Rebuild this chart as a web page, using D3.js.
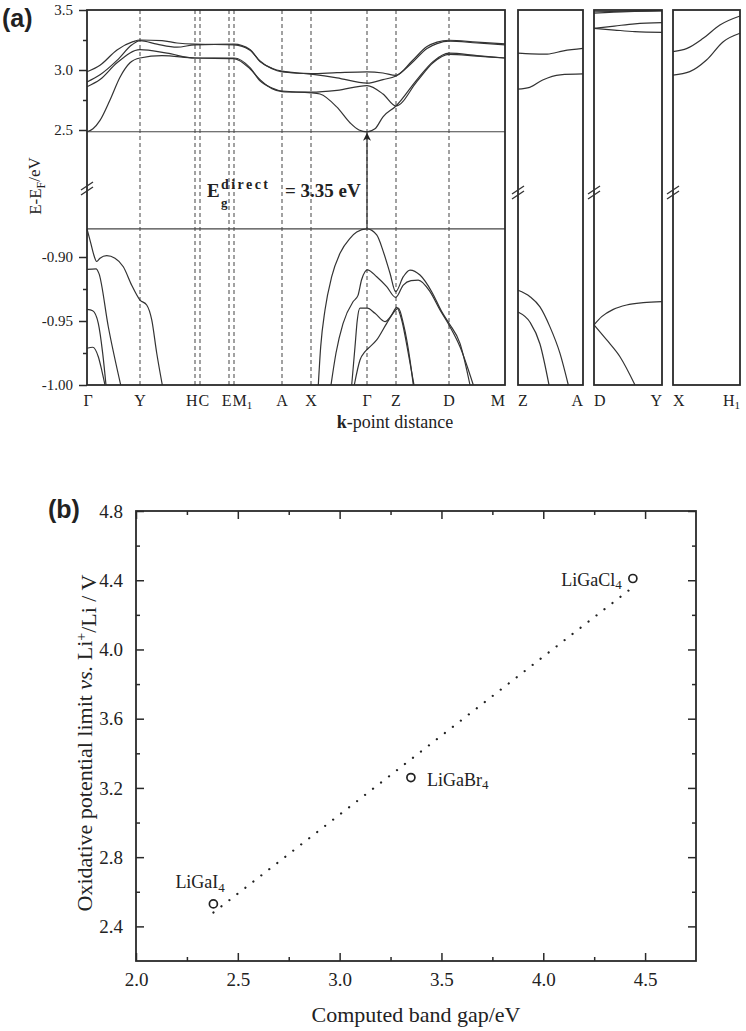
<!DOCTYPE html>
<html>
<head>
<meta charset="utf-8">
<script src="https://cdn.jsdelivr.net/npm/d3@7/dist/d3.min.js"></script>
<style>
  body { margin: 0; background: #fff; }
  svg { display: block; }
  text { font-family: "Liberation Serif", "Times New Roman", serif; fill: #222; }
  .frame { fill: none; stroke: #2a2a2a; stroke-width: 1.8px; }
  .band { fill: none; stroke: #333; stroke-width: 1.2px; }
  .kline { stroke: #555; stroke-width: 1.1px; stroke-dasharray: 4,3; }
  .edge { stroke: #444; stroke-width: 1.1px; }
  .tick line { stroke: #2a2a2a; stroke-width: 1.5px; }
</style>
</head>
<body>
<svg id="chart" width="746" height="1031"></svg>
<script>
// ---------- (a) band structure: [k-distance, E-EF (eV)] ----------
var kNames = ["Γ", "Y", "H", "C", "E", "M", "A", "X", "Γ", "Z", "D", "M"];
var kSubs  = ["", "", "", "", "", "1", "", "", "", "", "", ""];
var kPos   = [0, 0.53, 1.08, 1.13, 1.42, 1.47, 1.95, 2.24, 2.80, 3.09, 3.62, 4.18];

var sideNames = [["Z", "A"], ["D", "Y"], ["X", "H"]];
var sideSubs  = [["", ""], ["", ""], ["", "1"]];

var upTicks = [2.5, 3.0, 3.5], upMinor = [2.75, 3.25];
var loTicks = [-1.00, -0.95, -0.90], loMinor = [-0.975, -0.925];
var gapValue = 3.35;

// conduction bands (upper part of the broken axis)
var cb1 = [[0,2.485],[0.06,2.51],[0.13,2.58],[0.23,2.75],[0.33,2.94],[0.43,3.06],[0.53,3.10],[0.75,3.12],[1.08,3.10],[1.47,3.095],[1.63,3.01],[1.73,2.92],[1.85,2.845],[1.95,2.82],[2.24,2.81],[2.33,2.80],[2.50,2.69],[2.63,2.56],[2.72,2.50],[2.80,2.485],[2.88,2.51],[2.96,2.61],[3.09,2.70],[3.30,2.92],[3.46,3.07],[3.62,3.14],[3.90,3.12],[4.18,3.10]];
var cb2 = [[0,2.86],[0.13,2.92],[0.30,3.06],[0.53,3.17],[0.80,3.14],[1.08,3.10],[1.47,3.10],[1.63,3.02],[1.73,2.91],[1.85,2.85],[1.95,2.825],[2.24,2.815],[2.50,2.83],[2.80,2.87],[2.96,2.80],[3.09,2.70],[3.30,2.905],[3.46,3.06],[3.62,3.13],[3.90,3.115],[4.18,3.10]];
var cb3 = [[0,2.90],[0.13,2.96],[0.30,3.08],[0.45,3.21],[0.53,3.245],[0.70,3.215],[0.90,3.19],[1.08,3.21],[1.47,3.215],[1.63,3.17],[1.73,3.07],[1.85,3.015],[1.95,2.99],[2.24,2.965],[2.50,2.935],[2.80,2.89],[2.96,2.92],[3.09,2.95],[3.25,3.06],[3.40,3.18],[3.50,3.22],[3.62,3.24],[3.90,3.225],[4.18,3.21]];
var cb4 = [[0,2.985],[0.13,3.04],[0.30,3.167],[0.46,3.236],[0.53,3.25],[0.75,3.245],[0.90,3.225],[1.08,3.215],[1.47,3.21],[1.63,3.165],[1.73,3.075],[1.85,3.01],[1.95,2.985],[2.24,2.97],[2.50,2.978],[2.80,2.985],[2.96,2.975],[3.09,2.955],[3.25,3.075],[3.40,3.195],[3.50,3.232],[3.62,3.248],[3.90,3.232],[4.18,3.218]];

// valence bands (lower part)
var vb1 = [[0,-0.878],[0.037,-0.889],[0.063,-0.897],[0.097,-0.9035],[0.13,-0.901],[0.197,-0.899],[0.28,-0.901],[0.363,-0.9076],[0.447,-0.922],[0.53,-0.9336],[0.597,-0.9375],[0.647,-0.949],[0.697,-0.975],[0.753,-1.0]];
var vb2 = [[0,-0.9096],[0.09,-0.9092],[0.12,-0.913],[0.213,-0.9545],[0.337,-1.0]];
var vb3 = [[0,-0.9409],[0.057,-0.942],[0.113,-0.9518],[0.157,-0.9753],[0.19,-1.0]];
var vb4 = [[0,-0.9713],[0.057,-0.9705],[0.113,-0.9779],[0.147,-0.9883],[0.18,-1.0]];
var vb5 = [[2.313,-1.0],[2.337,-0.970],[2.38,-0.9414],[2.447,-0.9154],[2.53,-0.8971],[2.63,-0.8854],[2.697,-0.8805],[2.80,-0.878],[2.897,-0.8828],[2.963,-0.8958],[3.03,-0.9127],[3.087,-0.9271],[3.163,-0.9154],[3.23,-0.9102],[3.33,-0.9141],[3.447,-0.9271],[3.547,-0.9427],[3.62,-0.9518],[3.73,-0.9675],[3.83,-1.0]];
var vb6 = [[2.44,-1.0],[2.49,-0.975],[2.56,-0.952],[2.66,-0.935],[2.71,-0.930],[2.745,-0.918],[2.78,-0.9115],[2.803,-0.910],[2.897,-0.9154],[2.997,-0.9232],[3.087,-0.9316],[3.163,-0.9219],[3.24,-0.9185],[3.313,-0.918],[3.43,-0.9271],[3.53,-0.9414],[3.62,-0.9531],[3.73,-0.9701],[3.863,-1.0]];
var vb7 = [[2.647,-1.0],[2.68,-0.9701],[2.703,-0.9492],[2.73,-0.940],[2.803,-0.940],[2.88,-0.944],[2.98,-0.9505],[3.047,-0.9453],[3.097,-0.9393],[3.147,-0.9492],[3.213,-0.9753],[3.27,-1.0]];
var vb8 = [[2.673,-1.0],[2.73,-0.9805],[2.78,-0.974],[2.813,-0.9713],[2.897,-0.9648],[2.997,-0.9518],[3.087,-0.9414],[3.113,-0.940],[3.163,-0.9518],[3.23,-0.9805],[3.263,-1.0]];

// side panels, k runs 0..1 across each panel
var zaCB1 = [[0,3.14],[0.2,3.135],[0.45,3.133],[0.7,3.16],[1,3.18]];
var zaCB2 = [[0,2.84],[0.18,2.855],[0.38,2.917],[0.65,2.96],[1,2.967]];
var zaVB1 = [[0,-0.926],[0.185,-0.931],[0.338,-0.939],[0.49,-0.9544],[0.646,-0.9753],[0.774,-1.0]];
var zaVB2 = [[0,-0.943],[0.185,-0.951],[0.338,-0.968],[0.477,-1.0]];
var dyCB1 = [[0,3.485],[0.5,3.49],[1,3.495]];
var dyCB2 = [[0,3.473],[0.5,3.487],[1,3.493]];
var dyCB3 = [[0,3.347],[0.3,3.366],[0.6,3.385],[1,3.394]];
var dyCB4 = [[0,3.347],[0.3,3.333],[0.6,3.32],[1,3.314]];
var dyVB1 = [[0,-0.953],[0.113,-0.9466],[0.284,-0.9409],[0.48,-0.9375],[0.725,-0.9357],[1,-0.9349]];
var dyVB2 = [[0,-0.953],[0.187,-0.9648],[0.382,-0.9779],[0.603,-1.0]];
var xhCB1 = [[0,3.153],[0.21,3.18],[0.45,3.264],[0.7,3.375],[1,3.45]];
var xhCB2 = [[0,2.958],[0.25,2.986],[0.5,3.083],[0.75,3.236],[1,3.306]];

// ---------- (b) oxidative limit vs band gap ----------
var compounds   = ["LiGaI", "LiGaBr", "LiGaCl"];
var bandGap     = [2.38, 3.35, 4.44];
var oxPotential = [2.53, 3.26, 4.41];
var fitGap = [2.38, 4.44];
var fitPot = [2.48, 4.36];
var bMajorX = [2.0, 2.5, 3.0, 3.5, 4.0, 4.5], bMinorX = [2.25, 2.75, 3.25, 3.75, 4.25];
var bMajorY = [2.4, 2.8, 3.2, 3.6, 4.0, 4.4, 4.8], bMinorY = [2.6, 3.0, 3.4, 3.8, 4.2, 4.6];

var svg = d3.select("#chart");

// ================= panel (a) =================
var aTop = 10, aBottom = 385;
var yUp = d3.scaleLinear().domain([2.0, 3.5]).range([190, 10]);
var yLo = d3.scaleLinear().domain([-1.0, -0.85]).range([385, 193]);
var mainX = d3.scaleLinear().domain([0, 4.18]).range([87, 505]);

var panels = [
  { x: mainX, cb: [cb1, cb2, cb3, cb4], vb: [vb1, vb2, vb3, vb4, vb5, vb6, vb7, vb8] },
  { x: d3.scaleLinear().domain([0, 1]).range([518, 583]), cb: [zaCB1, zaCB2], vb: [zaVB1, zaVB2], side: 0 },
  { x: d3.scaleLinear().domain([0, 1]).range([594, 662]), cb: [dyCB1, dyCB2, dyCB3, dyCB4], vb: [dyVB1, dyVB2], side: 1 },
  { x: d3.scaleLinear().domain([0, 1]).range([673, 740]), cb: [xhCB1, xhCB2], vb: [], side: 2 }
];

var ga = svg.append("g");

// dashed high-symmetry lines in the main panel
ga.selectAll("line.kline")
  .data(kPos.slice(1, -1))
  .enter().append("line")
  .attr("class", "kline")
  .attr("x1", function(d) { return mainX(d); })
  .attr("x2", function(d) { return mainX(d); })
  .attr("y1", aTop).attr("y2", aBottom);

// band edges and gap arrow
var cbm = d3.min(cb1, function(d) { return d[1]; });
var vbm = d3.max(vb5, function(d) { return d[1]; });
var kGap = vb5.find(function(d) { return d[1] === vbm; })[0];

ga.append("line").attr("class", "edge")
  .attr("x1", mainX(0)).attr("x2", mainX(4.18))
  .attr("y1", yUp(cbm)).attr("y2", yUp(cbm));
ga.append("line").attr("class", "edge")
  .attr("x1", mainX(0)).attr("x2", mainX(4.18))
  .attr("y1", yLo(vbm)).attr("y2", yLo(vbm));

svg.append("defs").append("marker")
  .attr("id", "head")
  .attr("viewBox", "0 0 10 10")
  .attr("refX", 10).attr("refY", 5)
  .attr("markerWidth", 10).attr("markerHeight", 8)
  .attr("markerUnits", "userSpaceOnUse")
  .attr("orient", "auto")
  .append("path")
  .attr("d", "M0,0 L10,5 L0,10 L3,5 Z")
  .attr("fill", "#222");

ga.append("line")
  .attr("x1", mainX(kGap)).attr("x2", mainX(kGap))
  .attr("y1", yLo(vbm)).attr("y2", yUp(cbm) + 1)
  .attr("stroke", "#333").attr("stroke-width", 1.3)
  .attr("marker-end", "url(#head)");

// bands
panels.forEach(function(p) {
  var lineUp = d3.line().x(function(d) { return p.x(d[0]); }).y(function(d) { return yUp(d[1]); }).curve(d3.curveMonotoneX);
  var lineLo = d3.line().x(function(d) { return p.x(d[0]); }).y(function(d) { return yLo(d[1]); }).curve(d3.curveMonotoneX);
  ga.append("g").selectAll("path").data(p.cb).enter().append("path").attr("class", "band").attr("d", lineUp);
  ga.append("g").selectAll("path").data(p.vb).enter().append("path").attr("class", "band").attr("d", lineLo);

  var r = p.x.range();
  ga.append("rect").attr("class", "frame")
    .attr("x", r[0]).attr("y", aTop)
    .attr("width", r[1] - r[0]).attr("height", aBottom - aTop);
});

// axis break marks
function breakMark(x0, y0) {
  [0, 5].forEach(function(off) {
    ga.append("line")
      .attr("x1", x0 - 6).attr("y1", y0 + off + 4)
      .attr("x2", x0 + 6).attr("y2", y0 + off - 4)
      .attr("stroke", "#333").attr("stroke-width", 1.4);
  });
}
breakMark(mainX(0), 186);
panels.slice(1).forEach(function(p) { breakMark(p.x.range()[0], 190); });

// left axis ticks (broken)
function leftAxis(scale, major, minor, fmt) {
  var ax = ga.append("g").attr("transform", "translate(" + mainX(0) + ",0)")
    .call(d3.axisLeft(scale).tickValues(major).tickSize(8).tickPadding(6).tickFormat(fmt));
  ax.select(".domain").remove();
  ax.selectAll("text").style("font-size", "15px").style("font-family", "Liberation Serif");
  var mi = ga.append("g").attr("transform", "translate(" + mainX(0) + ",0)")
    .call(d3.axisLeft(scale).tickValues(minor).tickSize(4).tickFormat(""));
  mi.select(".domain").remove();
}
leftAxis(yUp, upTicks, upMinor, function(d) { return d.toFixed(1); });
leftAxis(yLo, loTicks, loMinor, function(d) { return d.toFixed(2); });

// k-point labels
function kLabel(x, name, sub, anchor) {
  var t = ga.append("text").attr("x", x).attr("y", 406)
    .attr("text-anchor", anchor).style("font-size", "16px").text(name);
  if (sub) t.append("tspan").attr("dy", "0.3em").style("font-size", "11px").text(sub);
}
kPos.forEach(function(k, i) {
  var anchor = "middle", x = mainX(k);
  if (i === 0) x += 1;
  if (i === kPos.length - 1) anchor = "end";
  if (i + 1 < kPos.length && kPos[i + 1] - k < 0.1) { anchor = "end"; x = mainX((k + kPos[i + 1]) / 2); }
  if (i > 0 && k - kPos[i - 1] < 0.1) { anchor = "start"; x = mainX((k + kPos[i - 1]) / 2) + 1; }
  kLabel(x, kNames[i], kSubs[i], anchor);
});
panels.slice(1).forEach(function(p) {
  var r = p.x.range(), s = p.side;
  kLabel(r[0], sideNames[s][0], sideSubs[s][0], "start");
  kLabel(r[1], sideNames[s][1], sideSubs[s][1], "end");
});

// axis titles
var xt = ga.append("text").attr("x", 395).attr("y", 428).attr("text-anchor", "middle").style("font-size", "18px");
xt.append("tspan").style("font-weight", "bold").text("k");
xt.append("tspan").text("-point distance");

var yt = ga.append("text").attr("transform", "translate(41,186) rotate(-90)")
  .attr("text-anchor", "middle").style("font-size", "17px");
yt.append("tspan").text("E-E");
yt.append("tspan").attr("dy", "0.3em").style("font-size", "12px").text("F");
yt.append("tspan").attr("dy", "-0.3em").text("/eV");

// gap annotation: E with stacked superscript / subscript
var egX = 207, egY = 197;
ga.append("text").attr("x", egX).attr("y", egY)
  .style("font-size", "19px").style("font-weight", "bold").text("E");
ga.append("text").attr("x", egX + 14).attr("y", egY - 8)
  .style("font-size", "14px").style("font-weight", "bold")
  .attr("textLength", 47).attr("lengthAdjust", "spacing").text("direct");
ga.append("text").attr("x", egX + 14).attr("y", egY + 10)
  .style("font-size", "13px").style("font-weight", "bold").text("g");
ga.append("text").attr("x", egX + 78).attr("y", egY)
  .style("font-size", "19px").style("font-weight", "bold").text("= " + gapValue.toFixed(2) + " eV");

ga.append("text").attr("x", 2).attr("y", 27)
  .style("font-family", "Liberation Sans").style("font-weight", "bold").style("font-size", "25px").text("(a)");

// ================= panel (b) =================
var gb = svg.append("g");
var xB = d3.scaleLinear().domain([2.0, 4.75]).range([136, 696]);
var yB = d3.scaleLinear().domain([2.2, 4.8]).range([961, 511]);

function inAxis(axis, pos, values, size, fmt) {
  var g = gb.append("g").attr("transform", pos)
    .call(axis.tickValues(values).tickSize(-size).tickFormat(fmt || ""));
  g.select(".domain").remove();
  return g;
}
var fmt1 = function(d) { return d.toFixed(1); };
var bx = inAxis(d3.axisBottom(xB).tickPadding(12), "translate(0,961)", bMajorX, 8, fmt1);
inAxis(d3.axisBottom(xB), "translate(0,961)", bMinorX, 4);
inAxis(d3.axisTop(xB), "translate(0,511)", bMajorX, 8);
inAxis(d3.axisTop(xB), "translate(0,511)", bMinorX, 4);
var by = inAxis(d3.axisLeft(yB).tickPadding(13), "translate(136,0)", bMajorY, 8, fmt1);
inAxis(d3.axisLeft(yB), "translate(136,0)", bMinorY, 4);
inAxis(d3.axisRight(yB), "translate(696,0)", bMajorY, 8);
inAxis(d3.axisRight(yB), "translate(696,0)", bMinorY, 4);
bx.selectAll("text").style("font-size", "19px").style("font-family", "Liberation Serif");
by.selectAll("text").style("font-size", "19px").style("font-family", "Liberation Serif");

gb.append("rect").attr("class", "frame")
  .attr("x", 136).attr("y", 511).attr("width", 696 - 136).attr("height", 961 - 511);

// linear fit (dotted)
gb.append("path")
  .datum(fitGap.map(function(g, i) { return [g, fitPot[i]]; }))
  .attr("d", d3.line().x(function(d) { return xB(d[0]); }).y(function(d) { return yB(d[1]); }))
  .attr("fill", "none").attr("stroke", "#222").attr("stroke-width", 2.2)
  .attr("stroke-linecap", "round").attr("stroke-dasharray", "0.1,10");

// points
gb.selectAll("circle").data(compounds).enter().append("circle")
  .attr("cx", function(d, i) { return xB(bandGap[i]); })
  .attr("cy", function(d, i) { return yB(oxPotential[i]); })
  .attr("r", 4).attr("fill", "none").attr("stroke", "#222").attr("stroke-width", 1.7);

// point labels: offsets from the marker
var labelDx = [-38, 16, -11], labelDy = [-16, 8, 7], labelAnchor = ["start", "start", "end"];
compounds.forEach(function(c, i) {
  var t = gb.append("text")
    .attr("x", xB(bandGap[i]) + labelDx[i])
    .attr("y", yB(oxPotential[i]) + labelDy[i])
    .attr("text-anchor", labelAnchor[i]).style("font-size", "18px").text(c);
  t.append("tspan").attr("dy", "0.3em").style("font-size", "13px").text("4");
});

gb.append("text").attr("x", 416).attr("y", 1022).attr("text-anchor", "middle")
  .style("font-size", "22px").text("Computed band gap/eV");

var oy = gb.append("text").attr("transform", "translate(92,743) rotate(-90)")
  .attr("text-anchor", "middle").style("font-size", "22px");
oy.append("tspan").text("Oxidative potential limit ");
oy.append("tspan").style("font-style", "italic").text("vs.");
oy.append("tspan").text(" Li");
oy.append("tspan").attr("dy", "-0.45em").style("font-size", "14px").text("+");
oy.append("tspan").attr("dy", "0.45em").text("/Li / V");

gb.append("text").attr("x", 48).attr("y", 518)
  .style("font-family", "Liberation Sans").style("font-weight", "bold").style("font-size", "25px").text("(b)");
</script>
</body>
</html>
